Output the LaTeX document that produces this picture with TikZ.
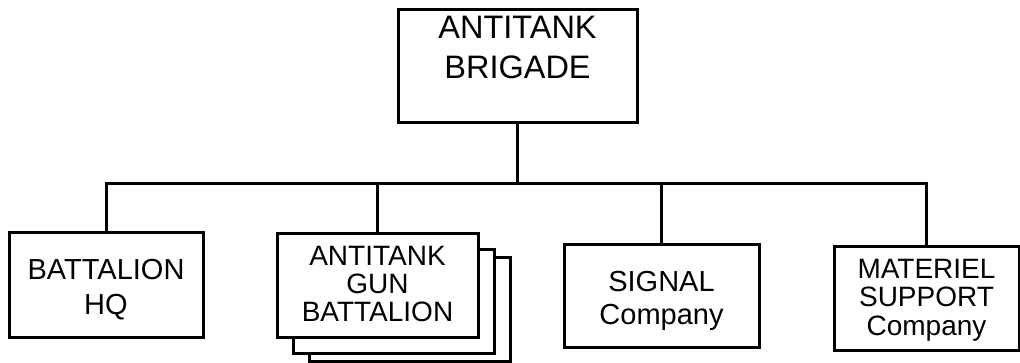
\documentclass[tikz,border=0pt]{standalone}
\usepackage{fontspec}
\setmainfont{Liberation Sans}
\begin{document}
\begin{tikzpicture}[x=1pt,y=-1pt,
  unitbox/.style={draw=black, fill=white, line width=3pt, inner sep=0pt},
  conn/.style={line width=3pt},
  lbl/.style={anchor=north, align=center, inner sep=0pt}]
\useasboundingbox (0,0) rectangle (1020,362);
% boxes
\node[unitbox, minimum width=239pt, minimum height=113pt] (top) at (517.5,65.5) {};
\node[unitbox, minimum width=194pt, minimum height=105pt] (hq) at (106,284.5) {};
\node[unitbox, minimum width=201pt, minimum height=104pt] (gun3) at (409.5,309) {};
\node[unitbox, minimum width=201pt, minimum height=104pt] (gun2) at (393.5,301) {};
\node[unitbox, minimum width=201pt, minimum height=104pt] (gun1) at (377.5,285) {};
\node[unitbox, minimum width=195pt, minimum height=103pt] (sig) at (661.5,295.5) {};
\node[unitbox, minimum width=185pt, minimum height=104pt] (mat) at (926.5,298) {};
% labels
\node[lbl, font=\fontsize{32.5}{40}\selectfont] (toplbl) at (517.5,16) {ANTITANK\\BRIGADE};
\node[lbl, font=\fontsize{29}{35}\selectfont] (hqlbl) at (106,259) {BATTALION\\HQ};
\node[lbl, font=\fontsize{28}{28}\selectfont] (gunlbl) at (377.5,246) {ANTITANK\\GUN\\BATTALION};
\node[lbl, font=\fontsize{29}{33}\selectfont] (siglbl) at (661.5,271) {SIGNAL\\Company};
\node[lbl, font=\fontsize{28}{28.5}\selectfont] (matlbl) at (926.5,259) {MATERIEL\\SUPPORT\\Company};
% connectors
\coordinate (bus) at (0,183);
\draw[conn] (top.south) -- (top.south |- bus);
\draw[conn] (hq.north) -- (hq.north |- bus) -- (mat.north |- bus) -- (mat.north);
\draw[conn] (gun1.north) -- (gun1.north |- bus);
\draw[conn] (sig.north) -- (sig.north |- bus);
\end{tikzpicture}
\end{document}
